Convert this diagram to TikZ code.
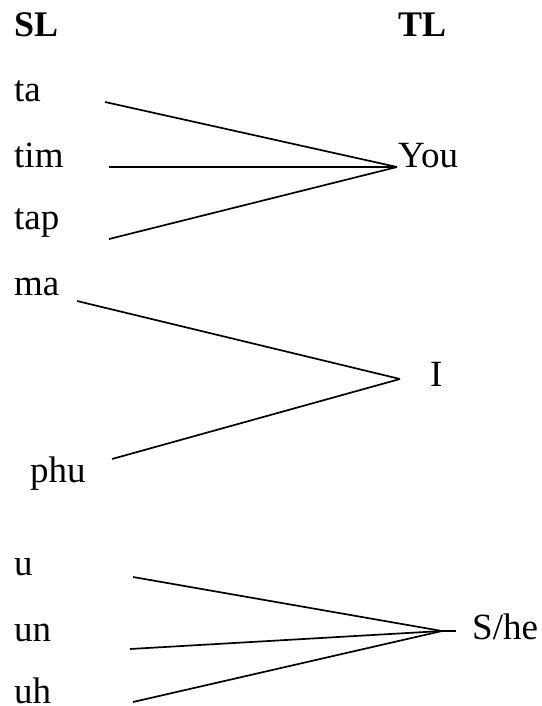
\documentclass[tikz,border=0pt]{standalone}
\usepackage{fontspec}
\setmainfont{Liberation Serif}
\begin{document}
\begin{tikzpicture}[x=1pt,y=-1pt,
  word/.style={anchor=base west,inner sep=0pt,font=\fontsize{37}{42}\selectfont},
  head/.style={anchor=base west,inner sep=0pt,font=\fontsize{36}{42}\selectfont\bfseries},
  link/.style={line width=1.7pt,line cap=butt}]
\useasboundingbox (0,0) rectangle (541,706);

% column headings
\node[head] (sl) at (14,37) {SL};
\node[head] (tl) at (398,37) {TL};

% source-language forms
\node[word] (ta)  at (14,102) {ta};
\node[word] (tim) at (14,167) {tim};
\node[word] (tap) at (14,229) {tap};
\node[word] (ma)  at (14,295) {ma};
\node[word] (phu) at (30,482) {phu};
\node[word] (u)   at (14,575) {u};
\node[word] (un)  at (14,641) {un};
\node[word] (uh)  at (14,703) {uh};

% target-language forms
\node[word] (you) at (398,167) {You};
\node[word] (i)   at (430,386) {I};
\node[word] (she) at (472,639) {S/he};

% line ends
\coordinate (ta-e)  at (105,102);
\coordinate (tim-e) at (109,167);
\coordinate (tap-e) at (109,239);
\coordinate (ma-e)  at (77,301);
\coordinate (phu-e) at (112,459);
\coordinate (u-e)   at (133,577);
\coordinate (un-e)  at (130,649);
\coordinate (uh-e)  at (133,702);

% meeting points
\coordinate (you-p) at (397,167);
\coordinate (i-p)   at (400,379);
\coordinate (she-p) at (442,631);
\coordinate (she-s) at (456,631);

% mappings
\draw[link] (ta-e) -- (you-p);
\draw[link] (tim-e) -- (you-p);
\draw[link] (tap-e) -- (you-p);
\draw[link] (ma-e) -- (i-p);
\draw[link] (phu-e) -- (i-p);
\draw[link] (u-e) -- (she-p);
\draw[link] (un-e) -- (she-p);
\draw[link] (uh-e) -- (she-p);
\draw[link] (she-p) -- (she-s);
\end{tikzpicture}
\end{document}
